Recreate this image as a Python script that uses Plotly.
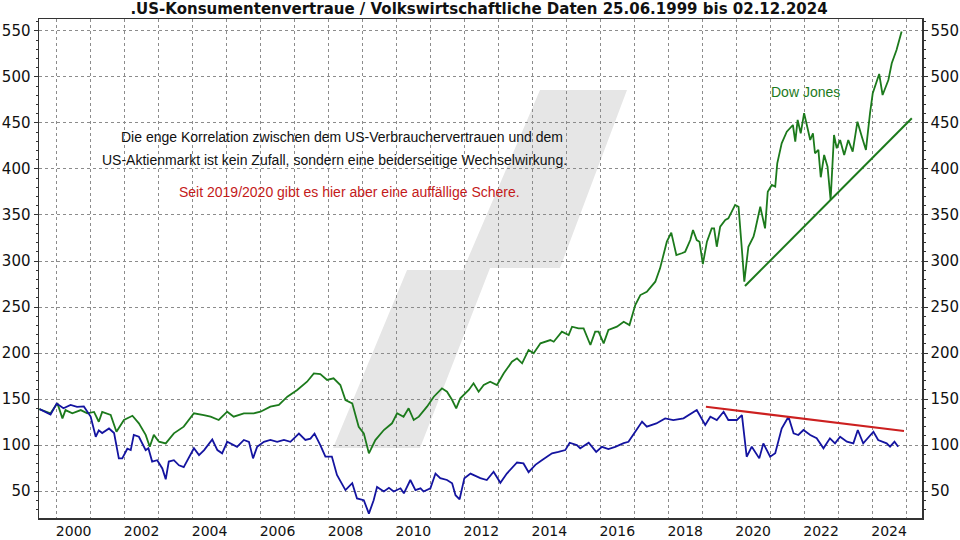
import plotly.graph_objects as go

# ---------------- data (decimal years) ----------------
years_blue = [1999.50, 1999.65, 1999.82, 2000.00, 2000.20, 2000.41, 2000.60, 2000.80, 2001.00, 2001.15,
              2001.24, 2001.34, 2001.54, 2001.69, 2001.83, 2001.93, 2002.08, 2002.18, 2002.27, 2002.42,
              2002.62, 2002.70, 2002.81, 2002.96, 2003.11, 2003.21, 2003.30, 2003.45, 2003.60, 2003.74,
              2003.89, 2004.04, 2004.19, 2004.34, 2004.58, 2004.73, 2004.87, 2005.02, 2005.31, 2005.51,
              2005.66, 2005.78, 2005.90, 2006.10, 2006.29, 2006.49, 2006.69, 2006.88, 2007.13, 2007.32,
              2007.47, 2007.59, 2007.76, 2007.91, 2008.10, 2008.25, 2008.50, 2008.70, 2008.84, 2009.04,
              2009.19, 2009.33, 2009.43, 2009.63, 2009.78, 2009.92, 2010.12, 2010.22, 2010.41, 2010.56,
              2010.71, 2010.80, 2011.00, 2011.15, 2011.29, 2011.49, 2011.64, 2011.74, 2011.86, 2012.00,
              2012.18, 2012.47, 2012.66, 2012.86, 2013.06, 2013.25, 2013.55, 2013.74, 2013.89, 2014.09,
              2014.28, 2014.58, 2014.77, 2014.97, 2015.10, 2015.31, 2015.41, 2015.66, 2015.88, 2016.05,
              2016.24, 2016.44, 2016.69, 2016.83, 2017.03, 2017.23, 2017.37, 2017.65, 2017.91, 2018.15,
              2018.45, 2018.84, 2019.09, 2019.24, 2019.43, 2019.63, 2019.77, 2020.02, 2020.17, 2020.31,
              2020.46, 2020.56, 2020.68, 2020.80, 2021.00, 2021.15, 2021.34, 2021.54, 2021.69, 2021.83,
              2021.98, 2022.18, 2022.37, 2022.57, 2022.76, 2022.91, 2023.06, 2023.26, 2023.45, 2023.58,
              2023.74, 2024.04, 2024.18, 2024.43, 2024.53, 2024.66, 2024.77]
consumer_confidence = [139, 136, 133, 145, 140, 143.5, 141.5, 142, 131, 109,
                       116, 113, 118, 113, 85.5, 85.5, 96, 94.5, 111, 109,
                       94.5, 96.5, 82, 83.5, 74.5, 62.7, 82, 83.5, 78, 76,
                       85.5, 96.5, 89, 94.5, 106, 94.5, 91, 103.5, 98, 105.5,
                       103.5, 85.5, 98, 103.5, 105.5, 103.5, 105.5, 103.5, 112.5, 105.5,
                       107, 112.5, 100, 87.5, 87.5, 67.5, 51, 58.5, 42, 40,
                       25.5, 40, 54.5, 49.5, 53.5, 49.5, 53, 47.5, 62, 51,
                       53, 49.5, 53, 69, 64, 62, 58.5, 45.5, 41, 64,
                       69, 64, 62, 71, 59, 69, 81, 80, 70.5, 78.5,
                       83.5, 91, 92.5, 94.5, 102.5, 100, 96.5, 102.5, 92.5, 98,
                       95.5, 98, 102, 103.5, 114.5, 125.5, 120, 123.5, 129, 127,
                       129, 138, 121.7, 130.8, 127.2, 136.2, 127.2, 127.2, 132.6, 87.3,
                       98.2, 92.7, 85.5, 101.8, 87.3, 91, 118, 130.8, 112.7, 110.9,
                       116.3, 110.9, 107.3, 96.4, 107.3, 101.8, 109, 103.6, 101.8, 116.3,
                       101.8, 114.5, 105.4, 101.8, 98.2, 103.6, 98.2]

years_green = [1999.48, 1999.82, 2000.02, 2000.17, 2000.26, 2000.46, 2000.71, 2000.90, 2001.10, 2001.24,
               2001.34, 2001.59, 2001.76, 2001.98, 2002.23, 2002.42, 2002.62, 2002.74, 2002.86, 2003.01,
               2003.21, 2003.45, 2003.74, 2004.04, 2004.33, 2004.53, 2004.77, 2005.02, 2005.21, 2005.51,
               2005.80, 2006.00, 2006.29, 2006.54, 2006.79, 2007.08, 2007.37, 2007.57, 2007.76, 2007.96,
               2008.15, 2008.35, 2008.50, 2008.70, 2008.89, 2009.04, 2009.19, 2009.38, 2009.63, 2009.87,
               2010.02, 2010.21, 2010.36, 2010.51, 2010.66, 2010.90, 2011.10, 2011.34, 2011.49, 2011.64,
               2011.76, 2011.88, 2012.13, 2012.27, 2012.42, 2012.57, 2012.76, 2012.96, 2013.16, 2013.40,
               2013.55, 2013.70, 2013.89, 2014.04, 2014.24, 2014.53, 2014.63, 2014.87, 2015.07, 2015.17,
               2015.36, 2015.51, 2015.71, 2015.85, 2015.95, 2016.10, 2016.24, 2016.49, 2016.69, 2016.86,
               2017.03, 2017.18, 2017.37, 2017.62, 2017.76, 2017.96, 2018.09, 2018.24, 2018.40, 2018.50,
               2018.65, 2018.73, 2018.84, 2018.92, 2019.02, 2019.14, 2019.28, 2019.35, 2019.43, 2019.53,
               2019.68, 2019.77, 2019.97, 2020.07, 2020.17, 2020.24, 2020.36, 2020.51, 2020.56, 2020.71,
               2020.85, 2020.93, 2021.05, 2021.15, 2021.21, 2021.34, 2021.49, 2021.67, 2021.74, 2021.81,
               2021.90, 2022.00, 2022.08, 2022.18, 2022.26, 2022.32, 2022.42, 2022.49, 2022.59, 2022.69,
               2022.78, 2022.88, 2022.96, 2023.06, 2023.18, 2023.30, 2023.43, 2023.57, 2023.70, 2023.82,
               2023.94, 2024.02, 2024.21, 2024.31, 2024.48, 2024.58, 2024.72, 2024.87]
dow_jones = [139, 134.5, 145.5, 129, 138, 134.5, 138, 134.5, 136, 125.3,
             136, 132.6, 114.5, 127.2, 131.8, 123.6, 111, 98.2, 111, 103.6,
             101.8, 112.7, 120, 134.5, 132.6, 130.8, 127.2, 136.2, 130.8, 134.5,
             134.5, 136.2, 141.7, 143.5, 152.5, 159.8, 168.8, 177.9, 177.2, 170.7,
             172.5, 165.2, 148.9, 145.3, 119.9, 112.7, 91, 105.4, 116.3, 123.6,
             134.5, 130.8, 139.9, 127.2, 130.8, 141.7, 152.5, 161.6, 157.9, 148.9,
             139.9, 150.7, 159.8, 167.1, 157.9, 165.2, 168.8, 165.2, 177.9, 190.5,
             194.2, 188.8, 203.3, 199.7, 210.5, 214.1, 212.3, 223.2, 219.6, 228.6,
             226.8, 226.8, 208.7, 223.2, 223.2, 210.5, 225, 228.6, 234, 230.4,
             252.2, 263, 266.6, 277.5, 292, 321, 330.8, 306.5, 308.4, 310.1,
             322.8, 333.7, 322.8, 321, 296.7, 321, 335.5, 335.5, 315.5, 337.3,
             344.6, 346.4, 360.9, 359, 311.9, 277.5, 315.5, 326.4, 333.7, 359,
             335.5, 375.3, 382.6, 380.8, 406.2, 427.9, 440.5, 447.8, 429.7, 453.3,
             438.8, 460.6, 447.8, 431.5, 438.8, 417.1, 420.7, 391, 415.2, 402.5,
             366.3, 436.9, 422.5, 431.5, 415.2, 431.5, 418.8, 451.4, 435.1, 420.7,
             460.6, 482.3, 503.3, 480.4, 496.7, 514.9, 529.3, 549.5]

trend_green_x = [2020.26, 2025.17]
trend_green_y = [272.8, 455.1]
trend_red_x = [2019.11, 2024.94]
trend_red_y = [141.6, 115.2]

tick_years = list(range(2000, 2025, 2))
tick_labels = [str(y) for y in tick_years]
y_ticks = list(range(50, 551, 50))
y_labels = [str(v) for v in y_ticks]

GREEN = "#1c7a1c"
BLUE = "#1414a0"
RED = "#cc2020"
GRID = "#8c8c8c"
TICKFONT = dict(family="DejaVu Sans, Verdana, sans-serif", size=15, color="#111")
XTICKFONT = dict(family="DejaVu Sans, Verdana, sans-serif", size=14, color="#111")

fig = go.Figure()

fig.add_trace(go.Scatter(x=years_green, y=dow_jones, mode="lines",
                         line=dict(color=GREEN, width=1.8), name="Dow Jones"))
fig.add_trace(go.Scatter(x=years_blue, y=consumer_confidence, mode="lines",
                         line=dict(color=BLUE, width=1.8), name="US-Konsumentenvertrauen"))
fig.add_trace(go.Scatter(x=trend_green_x, y=trend_green_y, mode="lines",
                         line=dict(color=GREEN, width=2), name="Trend Dow"))
fig.add_trace(go.Scatter(x=trend_red_x, y=trend_red_y, mode="lines", yaxis="y2",
                         line=dict(color=RED, width=2), name="Trend Vertrauen"))

YR = [20.7, 563]
XR = [1999.48, 2025.47]

fig.update_layout(
    width=960, height=540,
    margin=dict(l=39, r=38, t=19, b=22, pad=0),
    paper_bgcolor="white", plot_bgcolor="white",
    showlegend=False,
    hovermode=False,
    font=dict(family="Liberation Sans, Arial, sans-serif", color="#111"),
    title=dict(text=".US-Konsumentenvertraue / Volkswirtschaftliche Daten 25.06.1999 bis 02.12.2024",
               x=0.499, xanchor="center", y=0.984, yanchor="middle",
               font=dict(family="DejaVu Sans, Verdana, sans-serif", size=15, color="#111", weight="bold")),
    xaxis=dict(range=XR, tickmode="array", tickvals=[y + 0.5 for y in tick_years], ticktext=tick_labels,
               showgrid=False, ticks="", showline=True, linecolor="#333", linewidth=1.5, mirror=True,
               zeroline=False, automargin=False, tickfont=XTICKFONT,
               minor=dict(tick0=2000, dtick=1, showgrid=True, gridcolor=GRID, griddash="3px,3px",
                          gridwidth=1, ticks="")),
    yaxis=dict(range=YR, tickmode="array", tickvals=y_ticks, ticktext=y_labels,
               showgrid=True, gridcolor=GRID, griddash="3px,3px", gridwidth=1,
               ticks="outside", ticklen=4, tickcolor="#333", showline=True, linecolor="#333", linewidth=1.5,
               zeroline=False, automargin=False, tickfont=TICKFONT,
               minor=dict(tick0=0, dtick=10, ticks="outside", ticklen=2, tickcolor="#333", showgrid=False)),
    yaxis2=dict(range=YR, overlaying="y", side="right", tickmode="array", tickvals=y_ticks, ticktext=y_labels,
                showgrid=False, ticks="outside", ticklen=4, tickcolor="#333", showline=True, linecolor="#333",
                linewidth=1.5, zeroline=False, automargin=False, tickfont=TICKFONT,
                minor=dict(tick0=0, dtick=10, ticks="outside", ticklen=2, tickcolor="#333", showgrid=False)),
)

# watermark (background logo)
def P(px, py):
    return (px - 39) / 883, (518 - py) / 499

pts = [P(540, 90), P(627, 90), P(560, 268), P(490, 268), P(420, 448), P(333, 448), P(407, 270), P(463, 270)]
path = "M " + " L ".join(f"{x:.4f},{y:.4f}" for x, y in pts) + " Z"
fig.add_shape(type="path", path=path, xref="paper", yref="paper", layer="below",
              fillcolor="#e6e6e6", line=dict(width=0))

ann_font = dict(family="Liberation Sans, Arial, sans-serif", size=14, color="#111")
fig.add_annotation(text="Die enge Korrelation zwischen dem US-Verbrauchervertrauen und dem",
                   xref="paper", yref="paper", x=0.3428, y=0.7645, showarrow=False,
                   xanchor="center", yanchor="middle", font=ann_font)
fig.add_annotation(text="US-Aktienmarkt ist kein Zufall, sondern eine beiderseitige Wechselwirkung.",
                   xref="paper", yref="paper", x=0.3341, y=0.7174, showarrow=False,
                   xanchor="center", yanchor="middle", font=ann_font)
fig.add_annotation(text="Seit 2019/2020 gibt es hier aber eine auffällige Schere.",
                   xref="paper", yref="paper", x=0.3522, y=0.6539, showarrow=False,
                   xanchor="center", yanchor="middle", font=dict(ann_font, color="#c41a1a"))
fig.add_annotation(text="Dow Jones",
                   xref="paper", yref="paper", x=0.8686, y=0.8543, showarrow=False,
                   xanchor="center", yanchor="middle", font=dict(ann_font, color=GREEN))

fig.write_html("out.html",
               config={"displayModeBar": False, "staticPlot": True},
               post_script="document.body.style.margin='0';document.body.style.padding='0';"
                           "document.body.style.overflow='hidden';")
